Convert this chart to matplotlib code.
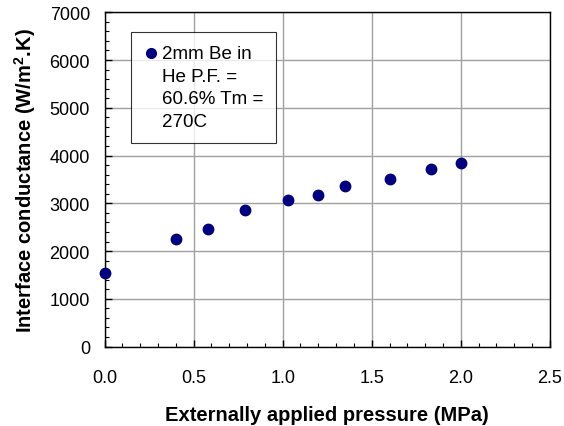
import numpy as np
import matplotlib
matplotlib.use("Agg")
import matplotlib.pyplot as plt
from matplotlib.ticker import MultipleLocator, FormatStrFormatter

plt.rcParams['font.family'] = ['Liberation Sans', 'DejaVu Sans']
plt.rcParams['mathtext.fontset'] = 'custom'
plt.rcParams['mathtext.rm'] = 'Liberation Sans'
plt.rcParams['mathtext.bf'] = 'Liberation Sans:bold'

# datos
presion = [0.0, 0.40, 0.58, 0.79, 1.03, 1.20, 1.35, 1.60, 1.83, 2.0]
conductancia = [1550, 2250, 2470, 2850, 3065, 3170, 3360, 3500, 3715, 3850]
etiqueta = "2mm Be in\nHe P.F. =\n60.6% Tm =\n270C"

fig = plt.figure(figsize=(5.64, 4.27), dpi=100)
ax = fig.add_axes([0.1853, 0.186, 0.7897, 0.7829])

ax.plot(presion, conductancia, 'o', color='#000080', markersize=7.5,
        label=etiqueta, clip_on=False, zorder=3)

ax.set_xlim(0, 2.5)
ax.set_ylim(0, 7000)
ax.xaxis.set_major_locator(MultipleLocator(0.5))
ax.xaxis.set_minor_locator(MultipleLocator(0.1))
ax.yaxis.set_major_locator(MultipleLocator(1000))
ax.yaxis.set_minor_locator(MultipleLocator(200))
ax.xaxis.set_major_formatter(FormatStrFormatter('%.1f'))

ax.grid(True, which='major', color='#a0a0a0', linewidth=1.0)
ax.set_axisbelow(True)
ax.tick_params(which='both', direction='in', labelsize=13, color='black')
ax.tick_params(which='major', length=5, width=1)
ax.tick_params(which='minor', length=3, width=0.8)
ax.tick_params(axis='x', which='major', pad=16)
ax.tick_params(axis='y', which='major', pad=10.5)
for s in ax.spines.values():
    s.set_linewidth(1.0)

ax.set_xlabel("Externally applied pressure (MPa)", fontsize=14.5,
              fontweight='bold', labelpad=14)
ax.set_ylabel(r"Interface conductance (W/m$^{\mathbf{2}}$.K)", fontsize=14.5,
              fontweight='bold', labelpad=8)

leg = ax.legend(loc='upper left', bbox_to_anchor=(0.059, 0.94), fontsize=13.5,
                frameon=True, fancybox=False, edgecolor='black',
                handletextpad=0.15, borderpad=0.69, handlelength=0.8,
                handleheight=1.2, borderaxespad=0, labelspacing=0.3)
leg.get_frame().set_linewidth(0.8)
for t in leg.get_texts():
    t.set_linespacing(1.42)
for h in leg.legend_handles:
    h.set_markersize(7)
# marcador alineado con la primera linea del texto
for col in leg._legend_handle_box.get_children():
    for item in col.get_children():
        item.align = 'top'

fig.savefig("out.png", dpi=100)
